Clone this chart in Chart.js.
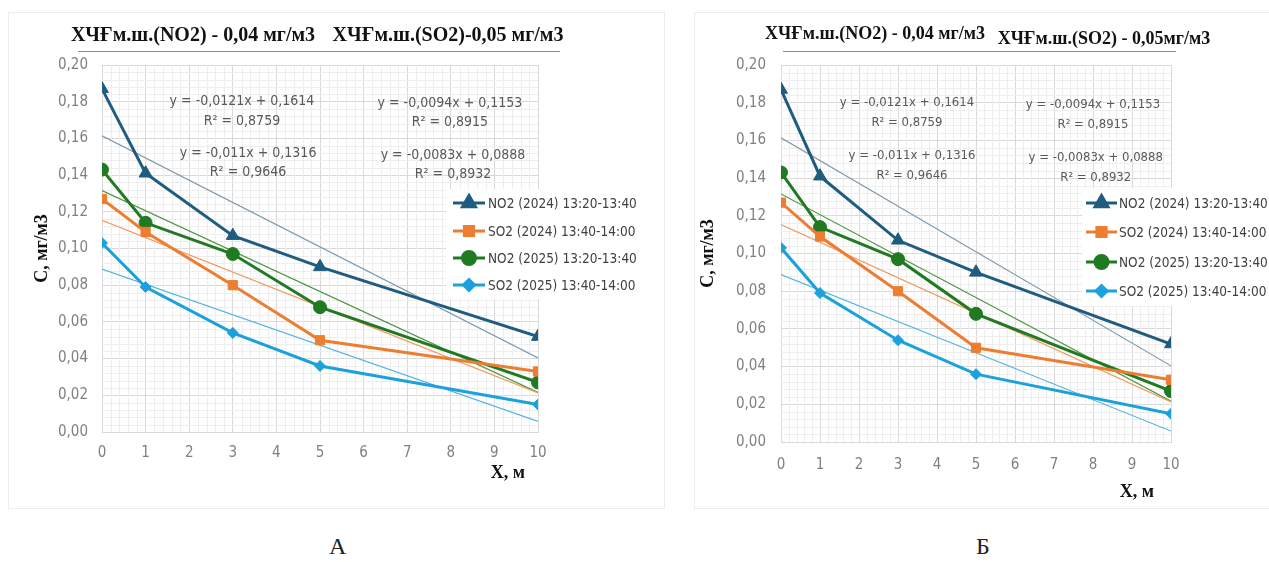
<!DOCTYPE html>
<html>
<head>
<meta charset="utf-8">
<script src="https://cdn.jsdelivr.net/npm/chart.js@4.4.0/dist/chart.umd.min.js"></script>
<style>
  body { margin: 0; background: #fff; width: 1269px; height: 562px; position: relative; overflow: hidden; }
  .frame { position: absolute; border: 1px solid #ececec; }
  .wrap { position: absolute; }
  .cap { position: absolute; top: 533px; font-size: 24px; color: #222; font-family: "Liberation Serif", serif; }
</style>
</head>
<body>
<div class="frame" style="left:8px;top:12px;width:655px;height:495px"></div>
<div class="frame" style="left:694px;top:12px;width:580px;height:495px"></div>
<div class="wrap" style="left:0;top:0;width:660px;height:505px"><canvas id="chartA"></canvas></div>
<div class="wrap" style="left:694px;top:0;width:575px;height:505px"><canvas id="chartB"></canvas></div>
<div class="cap" style="left:329px">А</div>
<div class="cap" style="left:976px">Б</div>

<script>
// distance from source, m
const distances = [0, 1, 3, 5, 10];
const seriesNames = ["NO2 (2024) 13:20-13:40", "SO2 (2024) 13:40-14:00", "NO2 (2025) 13:20-13:40", "SO2 (2025) 13:40-14:00"];
// concentrations, mg/m3
const no2_2024 = [0.187, 0.141, 0.107, 0.090, 0.052];
const so2_2024 = [0.127, 0.109, 0.080, 0.050, 0.033];
const no2_2025 = [0.143, 0.114, 0.097, 0.068, 0.027];
const so2_2025 = [0.103, 0.079, 0.054, 0.036, 0.015];
// linear trendlines: value at x = 0 and at x = 10
const trendStart = [0.1614, 0.1153, 0.1316, 0.0888];
const trendEnd = [0.0404, 0.0213, 0.0216, 0.0058];
const trendEquations = ["y = -0,0121x + 0,1614", "y = -0,0094x + 0,1153", "y = -0,011x + 0,1316", "y = -0,0083x + 0,0888"];
const trendR2 = ["R² = 0,8759", "R² = 0,8915", "R² = 0,9646", "R² = 0,8932"];
const headerA = ["ХЧҒм.ш.(NO2) - 0,04 мг/м3", "ХЧҒм.ш.(SO2)-0,05 мг/м3"];
const headerB = ["ХЧҒм.ш.(NO2) - 0,04 мг/м3", "ХЧҒм.ш.(SO2) - 0,05мг/м3"];
const yTitle = "С, мг/м3";
const xTitle = "X, м";

const allSeries = [no2_2024, so2_2024, no2_2025, so2_2025];
const lineColors = ["#1f5c80", "#ed7d31", "#217a21", "#1ba1dc"];
const trendColors = ["#7d98ab", "#f29a62", "#4d9340", "#55b5e2"];
const pointStyles = ["triangle", "rect", "circle", "rectRot"];
const pointSizes = [7.5, 6.5, 6.5, 5.5];

const narrow = "'Liberation Sans Narrow', 'DejaVu Sans Condensed', sans-serif";
const serif = "'Liberation Serif', 'DejaVu Serif', serif";

const fmt = (v) => v.toFixed(2).replace(".", ",");

//draws minor grid, trend equations, legend, x title and header
const decor = {
  id: "decor",
  beforeDatasetsDraw(chart, args, o) {
    const ctx = chart.ctx;
    const a = chart.chartArea;
    const xs = chart.scales.x, ys = chart.scales.y;
    ctx.save();
    ctx.strokeStyle = "#eeeeee";
    ctx.lineWidth = 1;
    ctx.beginPath();
    for (let i = 1; i < 50; i++) {
      if (i % 5 === 0) continue;
      const px = Math.round(xs.getPixelForValue(i / 5)) + 0.5;
      ctx.moveTo(px, a.top); ctx.lineTo(px, a.bottom);
    }
    for (let j = 1; j < 50; j++) {
      if (j % 5 === 0) continue;
      const py = Math.round(ys.getPixelForValue(j * 0.004)) + 0.5;
      ctx.moveTo(a.left, py); ctx.lineTo(a.right, py);
    }
    ctx.stroke();
    ctx.restore();
  },
  afterDatasetsDraw(chart, args, o) {
    const ctx = chart.ctx;
    const xs = chart.scales.x, ys = chart.scales.y;
    ctx.save();
    // trendline equations
    ctx.fillStyle = "#595959";
    ctx.textAlign = "center";
    ctx.textBaseline = "middle";
    ctx.font = o.eqFont + "px " + narrow;
    o.eqPos.forEach((p, i) => {
      const px = xs.getPixelForValue(p[0]);
      ctx.fillText(trendEquations[i], px, ys.getPixelForValue(p[1]));
      ctx.fillText(trendR2[i], px, ys.getPixelForValue(p[1] - 0.0105));
    });
    // legend
    const lg = o.legend;
    ctx.fillStyle = "#ffffff";
    ctx.fillRect(lg.box[0], lg.box[1], lg.box[2], lg.box[3]);
    ctx.font = lg.font + "px " + narrow;
    ctx.textAlign = "left";
    for (let i = 0; i < 4; i++) {
      const ds = chart.data.datasets[i];
      const y = lg.rows[i];
      ctx.strokeStyle = ds.borderColor;
      ctx.fillStyle = ds.borderColor;
      ctx.lineWidth = 3;
      ctx.beginPath();
      ctx.moveTo(lg.x, y); ctx.lineTo(lg.x + lg.w, y);
      ctx.stroke();
      Chart.helpers.drawPoint(ctx, { pointStyle: ds.pointStyle, radius: ds.pointRadius, rotation: 0, borderWidth: 1 }, lg.x + lg.w / 2, y);
      ctx.fillStyle = "#404040";
      ctx.fillText(ds.label, lg.textX, y + 1);
    }
    // x axis title, right-aligned a little inside the plot edge
    ctx.fillStyle = "#111111";
    ctx.font = "bold " + o.xTitle.font + "px " + serif;
    ctx.textAlign = "right";
    ctx.fillText(xTitle, chart.chartArea.right - o.xTitle.inset, o.xTitle.y);
    ctx.restore();
  },
  afterDraw(chart, args, o) {
    const ctx = chart.ctx;
    const h = o.header;
    ctx.save();
    ctx.strokeStyle = "#8c8c8c";
    ctx.lineWidth = 1;
    ctx.beginPath();
    ctx.moveTo(h.line[0], h.line[2] + 0.5); ctx.lineTo(h.line[1], h.line[2] + 0.5);
    ctx.stroke();
    ctx.fillStyle = "#111111";
    ctx.font = "bold " + h.font + "px " + serif;
    ctx.textAlign = "center";
    ctx.textBaseline = "middle";
    h.items.forEach((it) => ctx.fillText(it[0], it[1], it[2]));
    ctx.restore();
  },
};

function makeChart(id, cfg) {
  const datasets = [];
  allSeries.forEach((vals, i) => {
    datasets.push({
      label: seriesNames[i],
      data: distances.map((x, k) => ({ x: x, y: vals[k] })),
      borderColor: lineColors[i],
      backgroundColor: lineColors[i],
      borderWidth: 3,
      pointStyle: pointStyles[i],
      pointRadius: pointSizes[i],
      pointBorderWidth: 1,
      order: 1,
    });
  });
  allSeries.forEach((vals, i) => {
    datasets.push({
      label: "trend " + i,
      data: [{ x: 0, y: trendStart[i] }, { x: 10, y: trendEnd[i] }],
      borderColor: trendColors[i],
      borderWidth: 1.2,
      pointRadius: 0,
      order: 5,
    });
  });

  return new Chart(document.getElementById(id), {
    type: "line",
    data: { datasets: datasets },
    plugins: [decor],
    options: {
      responsive: true,
      maintainAspectRatio: false,
      animation: false,
      layout: { padding: cfg.padding },
      plugins: {
        legend: { display: false },
        tooltip: { enabled: false },
        decor: cfg.decor,
      },
      scales: {
        x: {
          type: "linear",
          min: 0,
          max: 10,
          afterFit: (s) => { s.height = cfg.xHeight; },
          ticks: { stepSize: 1, color: "#808080", padding: cfg.xTickPad, font: { family: narrow, size: cfg.tickFont } },
          grid: { color: "#d9d9d9", drawTicks: false },
          border: { color: "#d9d9d9" },
        },
        y: {
          min: 0,
          max: 0.2,
          afterFit: (s) => { s.width = cfg.yWidth; },
          ticks: { stepSize: 0.02, color: "#808080", padding: cfg.yTickPad, callback: (v) => fmt(v), font: { family: narrow, size: cfg.tickFont } },
          grid: { color: "#d9d9d9", drawTicks: false },
          border: { color: "#d9d9d9" },
          title: { display: true, text: yTitle, color: "#111", padding: { top: 4, bottom: 4 }, font: { family: serif, weight: "bold", size: cfg.titleFont } },
        },
      },
    },
  });
}

makeChart("chartA", {
  padding: { left: 28, top: 65, right: 122, bottom: 22 },
  yWidth: 74,
  xHeight: 51,
  xTickPad: 12,
  yTickPad: 14,
  tickFont: 15,
  titleFont: 18,
  decor: {
    eqFont: 14,
    eqPos: [[3.21, 0.180], [7.98, 0.179], [3.35, 0.152], [8.05, 0.151]],
    legend: { box: [446, 189, 214, 110], x: 453, w: 32, textX: 488, rows: [203, 231, 258, 285], font: 13.5 },
    xTitle: { font: 18, inset: 13, y: 473 },
    header: { font: 20, items: [[headerA[0], 193, 36], [headerA[1], 448, 36]], line: [78, 560, 51] },
  },
});

makeChart("chartB", {
  padding: { left: 0, top: 65, right: 98, bottom: 3 },
  yWidth: 87,
  xHeight: 60,
  xTickPad: 14,
  yTickPad: 15,
  tickFont: 15,
  titleFont: 18,
  decor: {
    eqFont: 13,
    eqPos: [[3.23, 0.180], [8.0, 0.179], [3.36, 0.152], [8.07, 0.151]],
    legend: { box: [388, 188, 187, 118], x: 392, w: 31, textX: 425, rows: [203, 232, 262, 291], font: 13.5 },
    xTitle: { font: 18, inset: 17, y: 492 },
    header: { font: 18, items: [[headerB[0], 181, 34], [headerB[1], 410, 39]], line: [89, 482, 51] },
  },
});
</script>
</body>
</html>
